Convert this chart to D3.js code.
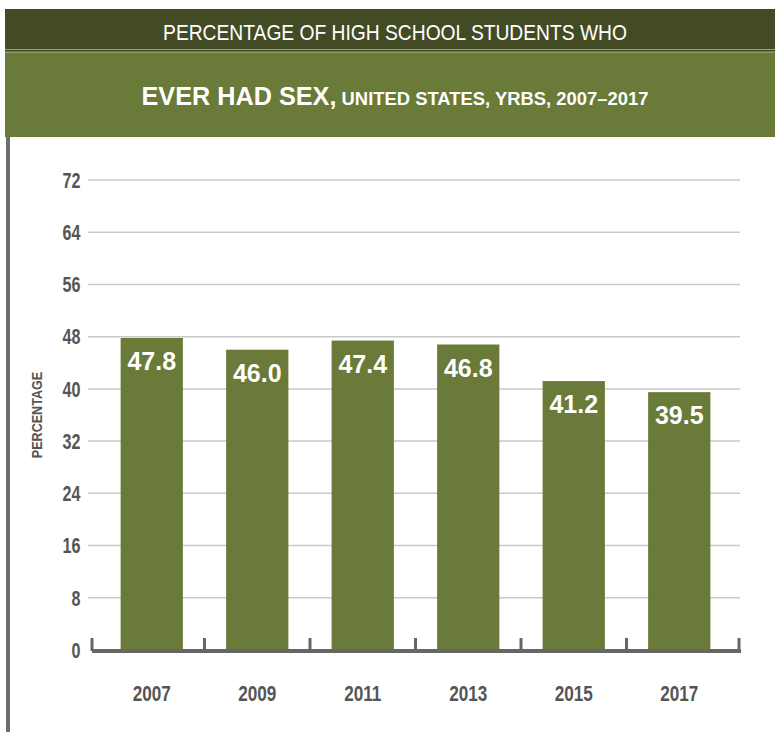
<!DOCTYPE html>
<html>
<head>
<meta charset="utf-8">
<script src="https://d3js.org/d3.v7.min.js"></script>
<style>
  body { margin: 0; background: #fff; }
  svg { display: block; }
  text { font-family: "Liberation Sans", Arial, sans-serif; }
</style>
</head>
<body>
<div id="chart"></div>
<script>
// data
const years = ["2007", "2009", "2011", "2013", "2015", "2017"];
const values = [47.8, 46.0, 47.4, 46.8, 41.2, 39.5];
const yTicks = [0, 8, 16, 24, 32, 40, 48, 56, 64, 72];
const titleTop = "PERCENTAGE OF HIGH SCHOOL STUDENTS WHO";
const titleBold = "EVER HAD SEX,";
const titleRest = " UNITED STATES, YRBS, 2007\u20132017";

const width = 775, height = 732;
const svg = d3.select("#chart").append("svg")
    .attr("width", width)
    .attr("height", height);

// the original uses a condensed face, so squeeze text horizontally
const squeeze = (x, y, sx) => `translate(${x},${y}) scale(${sx},1)`;

// header bands
svg.append("rect").attr("x", 5).attr("y", 9).attr("width", width - 5).attr("height", 42).attr("fill", "#434b24");
svg.append("rect").attr("x", 5).attr("y", 51).attr("width", width - 5).attr("height", 86).attr("fill", "#6a7a38");
svg.append("line").attr("x1", 5).attr("x2", width).attr("y1", 49.5).attr("y2", 49.5).attr("stroke", "#9aa37e").attr("stroke-width", 1);
svg.append("line").attr("x1", 5).attr("x2", width).attr("y1", 52.5).attr("y2", 52.5).attr("stroke", "#8f9c65").attr("stroke-width", 1);

svg.append("text")
    .attr("transform", squeeze(395, 39.5, 0.875))
    .attr("text-anchor", "middle")
    .attr("fill", "#fff")
    .style("font-size", "22px")
    .text(titleTop);

const t2 = svg.append("text")
    .attr("transform", squeeze(395, 105, 0.99))
    .attr("text-anchor", "middle")
    .attr("fill", "#fff");
t2.append("tspan").style("font-size", "25.5px").style("font-weight", "bold").text(titleBold);
t2.append("tspan").style("font-size", "18.6px").style("font-weight", "bold").text(titleRest);

// left border
svg.append("rect").attr("x", 6).attr("y", 137).attr("width", 4).attr("height", height - 137).attr("fill", "#6e6e6e");

// scales
const y = d3.scaleLinear().domain([0, 72]).range([650, 180]);
const x = d3.scaleBand().domain(years).range([99, 732]).paddingInner(0.41).paddingOuter(0.205);

// gridlines
svg.append("g")
    .selectAll("line")
    .data(yTicks.filter(d => d > 0))
    .join("line")
    .attr("x1", 88).attr("x2", 740)
    .attr("y1", d => y(d)).attr("y2", d => y(d))
    .attr("stroke", "#c9c9c9")
    .attr("stroke-width", 1.5);

// y labels
svg.append("g")
    .selectAll("text")
    .data(yTicks)
    .join("text")
    .attr("transform", d => squeeze(80.5, y(d) + 7.8, 0.75))
    .attr("text-anchor", "end")
    .attr("fill", "#555")
    .style("font-size", "21.5px")
    .style("font-weight", "bold")
    .text(d => d);

svg.append("text")
    .attr("transform", `translate(42,${y(36)}) rotate(-90) scale(0.84,1)`)
    .attr("text-anchor", "middle")
    .attr("fill", "#555")
    .style("font-size", "15px")
    .style("font-weight", "bold")
    .text("PERCENTAGE");

// bars
svg.append("g")
    .selectAll("rect")
    .data(values)
    .join("rect")
    .attr("x", (d, i) => x(years[i]))
    .attr("width", x.bandwidth())
    .attr("y", d => y(d))
    .attr("height", d => y(0) - y(d))
    .attr("fill", "#6a7a38");

svg.append("g")
    .selectAll("text")
    .data(values)
    .join("text")
    .attr("x", (d, i) => x(years[i]) + x.bandwidth() / 2)
    .attr("y", d => y(d) + 32)
    .attr("text-anchor", "middle")
    .attr("fill", "#fff")
    .style("font-size", "25px")
    .style("font-weight", "bold")
    .text(d => d.toFixed(1));

// x axis
const step = x.step();
const tickXs = [92].concat(years.slice(1).map(yr => x(yr) - step * x.paddingInner() / 2)).concat([739]);
const axis = svg.append("g");
axis.append("line")
    .attr("x1", 92).attr("x2", 741)
    .attr("y1", 651).attr("y2", 651)
    .attr("stroke", "#666").attr("stroke-width", 4);
axis.selectAll("line.tick")
    .data(tickXs)
    .join("line")
    .attr("class", "tick")
    .attr("x1", d => d).attr("x2", d => d)
    .attr("y1", 638).attr("y2", 651)
    .attr("stroke", "#666").attr("stroke-width", 3);

svg.append("g")
    .selectAll("text")
    .data(years)
    .join("text")
    .attr("transform", d => squeeze(x(d) + x.bandwidth() / 2, 700.5, 0.78))
    .attr("text-anchor", "middle")
    .attr("fill", "#555")
    .style("font-size", "22px")
    .style("font-weight", "bold")
    .text(d => d);
</script>
</body>
</html>
